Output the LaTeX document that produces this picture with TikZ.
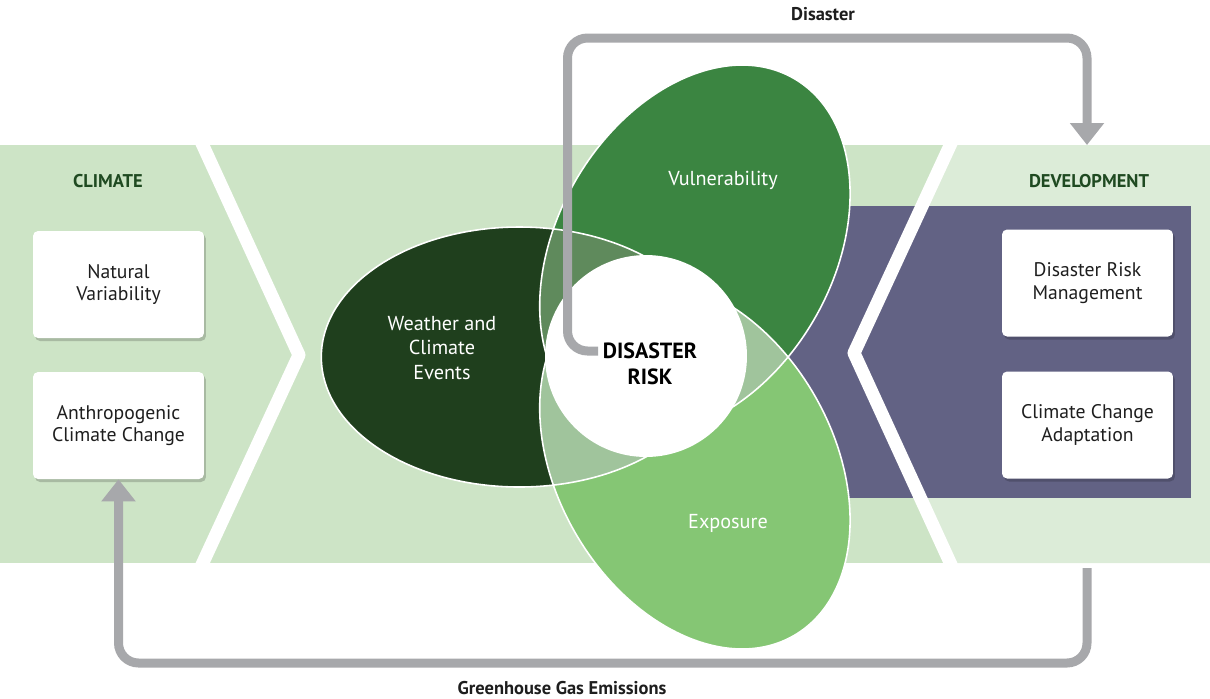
\documentclass[tikz,border=0pt]{standalone}
\usepackage{fontspec}
\setmainfont{PT Sans}
\usepackage{tikz}
\usetikzlibrary{arrows.meta, shadows}
\definecolor{bandgreen}{RGB}{205, 228, 198}
\definecolor{panelgreen}{RGB}{220, 236, 216}
\definecolor{devpurple}{RGB}{98, 98, 132}
\definecolor{weathercolor}{RGB}{31, 63, 29}
\definecolor{vulncolor}{RGB}{59, 133, 65}
\definecolor{exposcolor}{RGB}{133, 198, 116}
\definecolor{overlapdark}{RGB}{95, 138, 92}
\definecolor{overlaplight}{RGB}{160, 196, 156}
\definecolor{arrowgray}{RGB}{167, 168, 171}
\definecolor{titlegreen}{RGB}{31, 74, 33}
\definecolor{textblack}{RGB}{30, 30, 30}
\newcommand{\weatherpath}{(519.3,357) circle[x radius=198, y radius=130]}
\newcommand{\vulnpath}{(694.9,249.9) circle[x radius=198, y radius=138, rotate=60]}
\newcommand{\expospath}{(694.9,464.1) circle[x radius=198, y radius=138, rotate=-60]}

\begin{document}
\begin{tikzpicture}[
    x=0.02cm, y=-0.02cm,
    infobox/.style={fill=white, rounded corners=0.1cm, minimum width=3.42cm, minimum height=2.14cm, align=center, text=textblack, font=\fontsize{11.2}{13}\selectfont, drop shadow={shadow xshift=0.04cm, shadow yshift=-0.06cm, opacity=0.18, fill=black}},
    paneltitle/.style={text=titlegreen, font=\bfseries\fontsize{10.5}{12}\selectfont},
    leaflabel/.style={text=white, align=center, font=\fontsize{11.5}{14.2}\selectfont},
    leafline/.style={draw=white, line width=0.9pt},
    chevron/.style={draw=white, line width=0.26cm, line join=round},
    flowarrow/.style={draw=arrowgray, line width=0.18cm, rounded corners=0.4cm, -{Triangle[width=0.66cm, length=0.44cm]}},
    flowlabel/.style={text=textblack, font=\bfseries\fontsize{10.5}{12}\selectfont}
]
    \useasboundingbox (0,0) rectangle (1210,698);

    % Band, development panel and chevrons
    \fill[bandgreen] (0,145) rectangle (1210,563);
    \fill[panelgreen] (953.5,145) -- (854,353) -- (953.5,563) -- (1210,563) -- (1210,145) -- cycle;
    \fill[devpurple] (760,206) rectangle (1191,498);
    \draw[chevron] (199.5,138) -- (299,355) -- (199.5,570);
    \draw[chevron] (953.5,138) -- (854,353) -- (953.5,570);

    % Leaves
    \fill[weathercolor] \weatherpath;
    \fill[vulncolor] \vulnpath;
    \fill[exposcolor] \expospath;
    \begin{scope}
        \clip \weatherpath;
        \fill[overlapdark] \vulnpath;
        \fill[overlaplight] \expospath;
    \end{scope}
    \begin{scope}
        \clip \vulnpath;
        \fill[overlaplight] \expospath;
    \end{scope}
    \draw[leafline] \weatherpath;
    \draw[leafline] \vulnpath;
    \draw[leafline] \expospath;

    \node[circle, fill=white, minimum size=4.04cm, inner sep=0pt] (risk) at (646,356) {};
    \node[leaflabel] (weatherlabel) at (442,348) {Weather and\\Climate\\Events};
    \node[leaflabel] (vulnlabel) at (723,180) {Vulnerability};
    \node[leaflabel] (exposlabel) at (728,523) {Exposure};
    \node[align=center, text=black, font=\bfseries\fontsize{12.5}{14.7}\selectfont] (risklabel) at (650,364) {DISASTER\\RISK};

    % Climate panel
    \node[paneltitle] (climatetitle) at (108,181) {CLIMATE};
    \node[infobox] (natvar) at (118.5,284.5) {Natural\\Variability};
    \node[infobox] (anthro) at (118.5,425.5) {Anthropogenic\\Climate Change};

    % Development panel
    \node[paneltitle] (devtitle) at (1089,181) {DEVELOPMENT};
    \node[infobox] (drm) at (1087.5,283) {Disaster Risk\\Management};
    \node[infobox] (cca) at (1087.5,425) {Climate Change\\Adaptation};

    % Feedback arrows
    \coordinate (disstart) at (598,351);
    \coordinate (devtop) at (1087,145);
    \coordinate (ghgstart) at (1087,568);
    \draw[flowarrow] (disstart) -| (567.5,38) -| (devtop);
    \draw[flowarrow] (ghgstart) -- (1087,663) -| (anthro.south);
    \node[flowlabel] (dislabel) at (823,14) {Disaster};
    \node[flowlabel] (ghglabel) at (562,688) {Greenhouse Gas Emissions};

\end{tikzpicture}
\end{document}
